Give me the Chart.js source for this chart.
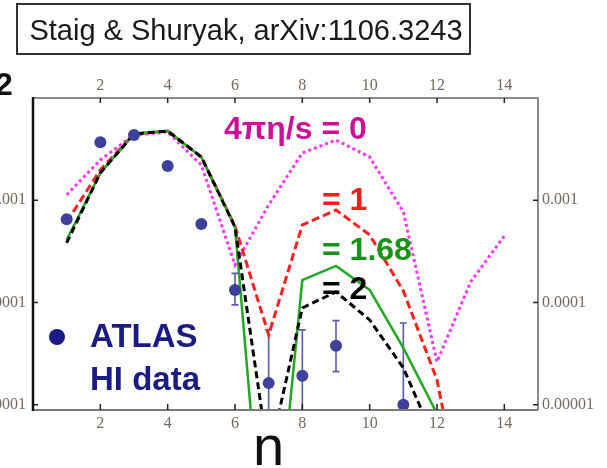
<!DOCTYPE html>
<html>
<head>
<meta charset="utf-8">
<script src="https://cdn.jsdelivr.net/npm/chart.js@4.4.1/dist/chart.umd.min.js"></script>
<style>
  html, body { margin: 0; padding: 0; background: #fff; }
  #wrap { position: relative; width: 607px; height: 468px; }
</style>
</head>
<body>
<div id="wrap"><canvas id="c" width="607" height="468"></canvas></div>
<script>
// ── values (v_n^2 vs n, log scale) ──
const nTheory   = [1, 2, 3, 4, 5, 6, 7, 8, 9, 10, 11, 12, 13, 14];
const eta0      = [1.13e-3, 2.48e-3, 4.35e-3, 4.65e-3, 2.21e-3, 2.33e-4, 9.0e-4, 2.90e-3, 3.88e-3, 2.65e-3, 7.7e-4, 2.63e-5, 1.59e-4, 4.48e-4];
const eta1      = [6.14e-4, 1.98e-3, 4.45e-3, 4.76e-3, 2.65e-3, 5.61e-4, 4.82e-5, 5.74e-4, 8.04e-4, 4.58e-4, 1.30e-4, 1.75e-5, 4e-7];
const eta168    = [4.09e-4, 1.85e-3, 4.45e-3, 4.76e-3, 2.65e-3, 5.48e-4, 8e-8, 1.66e-4, 2.28e-4, 1.33e-4, 3.6e-5, 8.2e-6, 1.2e-7];
const eta2      = [3.83e-4, 1.85e-3, 4.45e-3, 4.76e-3, 2.65e-3, 5.48e-4, 3.0e-6, 8.86e-5, 1.27e-4, 6.76e-5, 2.30e-5, 4.0e-6, 1e-7];

const atlasN    = [1, 2, 3, 4, 5, 6, 7, 8, 9, 11];
const atlasV    = [6.52e-4, 3.69e-3, 4.35e-3, 2.16e-3, 5.86e-4, 1.33e-4, 1.63e-5, 1.92e-5, 3.79e-5, 1.0e-5];
const atlasLo   = [null, null, null, null, null, 9.5e-5, 1e-7, 1e-7, 2.11e-5, 1e-7];
const atlasHi   = [null, null, null, null, null, 1.93e-4, 5.4e-5, 5.4e-5, 6.65e-5, 6.3e-5];

const xTicks      = [2, 4, 6, 8, 10, 12, 14];
const yTicks      = [0.001, 0.0001, 0.00001];
const yTickLabels = ['0.001', '0.0001', '0.00001'];

const pts = (xs, ys) => ys.map((y, i) => ({ x: xs[i], y }));

const tickFont  = { family: 'Liberation Serif', size: 16 };
const tickColor = '#75695e';

function xAxis(pos, h, pad) {
  return {
    type: 'linear', position: pos, min: 0, max: 15,
    grid: { display: false, drawTicks: false }, border: { display: false },
    ticks: { font: tickFont, color: tickColor, padding: pad },
    afterBuildTicks: s => { s.ticks = xTicks.map(v => ({ value: v })); },
    afterFit: s => { s.height = h; }
  };
}
function yAxis(pos, w, pad) {
  return {
    type: 'logarithmic', position: pos, min: 8.9e-6, max: 0.01,
    grid: { display: false, drawTicks: false }, border: { display: false },
    ticks: { font: tickFont, color: tickColor, padding: pad,
             callback: v => { const k = yTicks.indexOf(v); return k < 0 ? '' : yTickLabels[k]; } },
    afterBuildTicks: s => { s.ticks = yTicks.map(v => ({ value: v })); },
    afterFit: s => { s.width = w; }
  };
}

// error bars, frame, inward ticks and the text annotations
const decor = {
  id: 'decor',
  beforeDatasetsDraw(chart) {
    const { ctx, chartArea: a, scales } = chart;
    ctx.save();
    ctx.beginPath(); ctx.rect(a.left, a.top, a.right - a.left, a.bottom - a.top); ctx.clip();
    ctx.strokeStyle = '#5a5ab0'; ctx.lineWidth = 1.6;
    atlasN.forEach((n, i) => {
      if (atlasHi[i] == null) return;
      const x = scales.x.getPixelForValue(n);
      const y1 = scales.y.getPixelForValue(atlasHi[i]);
      const y2 = scales.y.getPixelForValue(atlasLo[i]);
      ctx.beginPath();
      ctx.moveTo(x, y1); ctx.lineTo(x, y2);
      ctx.moveTo(x - 3.5, y1); ctx.lineTo(x + 3.5, y1);
      ctx.moveTo(x - 3.5, y2); ctx.lineTo(x + 3.5, y2);
      ctx.stroke();
    });
    ctx.restore();
  },
  afterDraw(chart) {
    const { ctx, chartArea: a, scales } = chart;
    ctx.save();
    // frame
    ctx.lineWidth = 2;
    ctx.strokeStyle = '#8c8c8c';
    ctx.beginPath(); ctx.moveTo(a.left, a.top); ctx.lineTo(a.right, a.top); ctx.lineTo(a.right, a.bottom); ctx.stroke();
    ctx.strokeStyle = '#7a7a7a';
    ctx.beginPath(); ctx.moveTo(a.left, a.bottom); ctx.lineTo(a.right, a.bottom); ctx.stroke();
    ctx.strokeStyle = '#111'; ctx.lineWidth = 2.5;
    ctx.beginPath(); ctx.moveTo(a.left, a.top - 1); ctx.lineTo(a.left, a.bottom + 1); ctx.stroke();
    // inward ticks
    ctx.strokeStyle = '#222'; ctx.lineWidth = 1.5;
    ctx.beginPath();
    xTicks.forEach(v => {
      const x = scales.x.getPixelForValue(v);
      ctx.moveTo(x, a.top); ctx.lineTo(x, a.top + 5);
      ctx.moveTo(x, a.bottom); ctx.lineTo(x, a.bottom - 6);
    });
    yTicks.forEach(v => {
      const y = scales.y.getPixelForValue(v);
      ctx.moveTo(a.left, y); ctx.lineTo(a.left + 5, y);
      ctx.moveTo(a.right, y); ctx.lineTo(a.right - 5, y);
    });
    ctx.stroke();

    // title box
    ctx.strokeStyle = '#333'; ctx.lineWidth = 2;
    ctx.strokeRect(17, 4, 453, 50);
    ctx.fillStyle = '#1a1a1a';
    ctx.font = '29px "Liberation Sans", Arial, sans-serif';
    ctx.textAlign = 'center'; ctx.textBaseline = 'alphabetic';
    ctx.fillText('Staig & Shuryak, arXiv:1106.3243', 246, 40);

    ctx.textAlign = 'left';
    ctx.fillStyle = '#111';
    ctx.font = 'bold 32px "Liberation Sans", Arial, sans-serif';
    ctx.fillText('2', -5, 95);

    ctx.fillStyle = '#cc1199';
    ctx.fillText('4πη/s = 0', 224, 139);
    ctx.fillStyle = '#ff1a1a';
    ctx.fillText('= 1', 322, 210);
    ctx.fillStyle = '#179417';
    ctx.fillText('= 1.68', 322, 260);
    ctx.fillStyle = '#000';
    ctx.fillText('= 2', 322, 299);

    ctx.fillStyle = '#1b1b86';
    ctx.beginPath(); ctx.arc(57, 337, 8, 0, Math.PI * 2); ctx.fill();
    ctx.font = 'bold 33px "Liberation Sans", Arial, sans-serif';
    ctx.fillText('ATLAS', 90, 347);
    ctx.fillText('HI data', 90, 390);

    ctx.fillStyle = '#111';
    ctx.font = '56px "Liberation Sans", Arial, sans-serif';
    ctx.fillText('n', 253, 465);
    ctx.restore();
  }
};

const line = (label, data, color, width, dash) => ({
  type: 'line', label, data: pts(nTheory, data),
  borderColor: color, borderWidth: width, borderDash: dash,
  pointRadius: 0, tension: 0, fill: false, clip: 0, xAxisID: 'x', yAxisID: 'y'
});

new Chart(document.getElementById('c'), {
  type: 'scatter',
  data: {
    datasets: [
      { type: 'scatter', label: 'ATLAS HI data', data: pts(atlasN, atlasV),
        backgroundColor: '#3f3f9c', borderWidth: 0, pointRadius: 6, clip: 0,
        xAxisID: 'x', yAxisID: 'y' },
      line('4πη/s = 2', eta2, '#000', 3, [7, 4]),
      line('4πη/s = 1.68', eta168, '#22a822', 2.5, []),
      line('4πη/s = 1', eta1, '#ff2020', 3, [8, 4]),
      line('4πη/s = 0', eta0, '#ff33ff', 3, [3, 3])
    ]
  },
  options: {
    responsive: false, animation: false, devicePixelRatio: 1,
    layout: { padding: 0 },
    plugins: { legend: { display: false }, tooltip: { enabled: false } },
    scales: {
      x:  xAxis('bottom', 58, 4),
      x2: xAxis('top', 98, 3),
      y:  yAxis('left', 33, 7),
      y2: yAxis('right', 69, 4)
    }
  },
  plugins: [decor]
});
</script>
</body>
</html>
